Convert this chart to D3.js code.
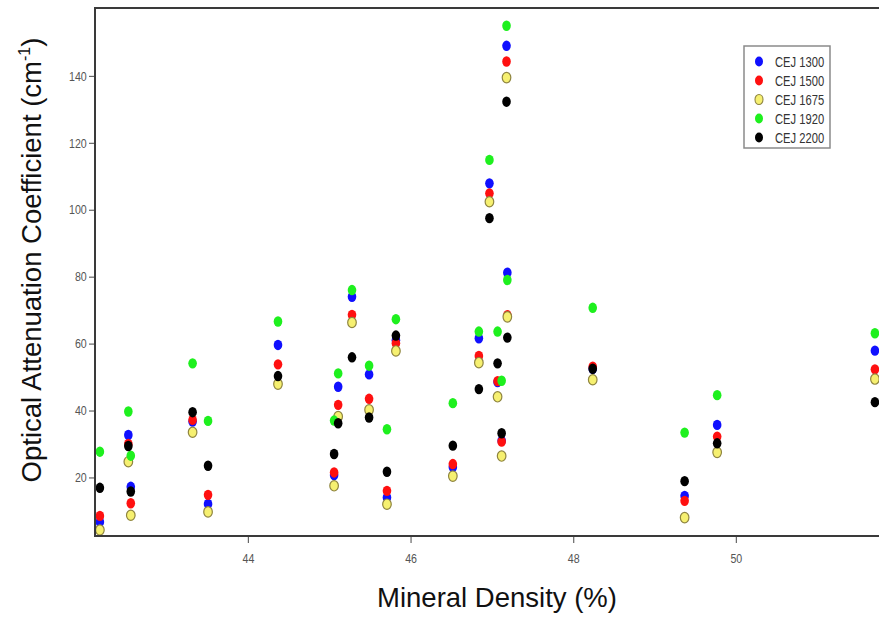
<!DOCTYPE html>
<html lang="en">
<head>
    <meta charset="UTF-8">
    <title>Optical Attenuation vs Mineral Density</title>
    <script src="https://d3js.org/d3.v7.min.js"></script>
    <style>
        body { margin: 0; background: #fff; }
        svg { display: block; background: #fff; }
        .tick text { font-family: "Liberation Sans", Arial, sans-serif; fill: #555; }
    </style>
</head>
<body>

    <svg width="879" height="618"></svg>

    <script>
        // Mineral density (%) of each sample
        const density = [42.18, 42.53, 42.56, 43.32, 43.51, 44.37, 45.06, 45.11, 45.28, 45.49, 45.71, 45.82,
                         46.52, 46.84, 46.97, 47.07, 47.12, 47.18, 47.19, 48.24, 49.37, 49.77, 51.71];

        // Attenuation coefficient per CEJ distance
        const cej1300 = [6.7, 32.7, 17.2, 36.7, 12.1, 59.6, 20.7, 47.1, 74.0, 50.8, 14.0, 61.0,
                         23.1, 61.6, 107.9, 48.5, 31.0, 149.0, 81.2, 52.5, 14.5, 35.7, 57.9];
        const cej1500 = [8.5, 30.0, 12.3, 37.2, 14.8, 53.8, 21.5, 41.7, 68.6, 43.5, 16.0, 60.1,
                         24.0, 56.3, 104.9, 48.8, 30.7, 144.3, 68.5, 53.1, 13.0, 32.2, 52.3];
        const cej1675 = [4.3, 24.7, 8.7, 33.5, 9.7, 47.9, 17.5, 38.2, 66.3, 40.2, 12.0, 57.8,
                         20.4, 54.3, 102.4, 44.1, 26.4, 139.5, 68.0, 49.2, 8.0, 27.5, 49.4];
        const cej1920 = [27.7, 39.7, 26.5, 54.1, 36.9, 66.6, 37.0, 51.1, 76.0, 53.4, 34.4, 67.3,
                         42.2, 63.6, 114.9, 63.6, 48.9, 155.0, 79.0, 70.7, 33.4, 44.6, 63.1];
        const cej2200 = [16.9, 29.4, 15.8, 39.5, 23.5, 50.3, 27.0, 36.2, 55.9, 37.9, 21.7, 62.4,
                         29.5, 46.4, 97.5, 54.1, 33.2, 132.3, 61.8, 52.5, 18.9, 30.2, 42.5];

        const seriesNames = ["CEJ 1300", "CEJ 1500", "CEJ 1675", "CEJ 1920", "CEJ 2200"];
        const seriesValues = [cej1300, cej1500, cej1675, cej1920, cej2200];
        const xTicks = [44, 46, 48, 50];
        const yTicks = [20, 40, 60, 80, 100, 120, 140];

        const fills = ["#1010ff", "#ff1010", "#f6f070", "#1ef01e", "#000000"];
        const strokes = ["none", "none", "#8f8540", "none", "none"];

        const width = 879, height = 618;
        const margin = { top: 8, right: 0, bottom: 82, left: 95 };

        const svg = d3.select("svg");

        const x = d3.scaleLinear()
            .domain([42.12, 51.76])
            .range([margin.left, width - margin.right]);

        const y = d3.scaleLinear()
            .domain([2.5, 160.3])
            .range([height - margin.bottom, margin.top]);

        // points, one series after another (black ends up on top)
        seriesValues.forEach((vals, i) => {
            svg.append("g")
                .selectAll("ellipse")
                .data(vals)
                .join("ellipse")
                .attr("cx", (d, j) => x(density[j]))
                .attr("cy", d => y(d))
                .attr("rx", 4.3)
                .attr("ry", 5.2)
                .attr("fill", fills[i])
                .attr("stroke", strokes[i])
                .attr("stroke-width", 1.2);
        });

        // axes
        const xAxis = svg.append("g")
            .attr("transform", `translate(0,${height - margin.bottom})`)
            .call(d3.axisBottom(x).tickValues(xTicks).tickSize(7).tickPadding(11).tickSizeOuter(0));

        const yAxis = svg.append("g")
            .attr("transform", `translate(${margin.left},0)`)
            .call(d3.axisLeft(y).tickValues(yTicks).tickSize(6).tickPadding(4).tickSizeOuter(0));

        [xAxis, yAxis].forEach(a => {
            a.select(".domain").remove();
            a.selectAll(".tick line").attr("stroke", "#666").attr("stroke-width", 1.2);
            // the source font is a condensed one, squeeze a regular face
            a.selectAll(".tick text").attr("font-size", 13).attr("transform", "scale(0.82,1)");
        });

        // frame: left, bottom, top
        const frame = svg.append("g").attr("stroke", "#3a3a3a").attr("stroke-width", 2).attr("fill", "none");
        frame.append("path")
            .attr("d", `M${width},${margin.top}H${margin.left}V${height - margin.bottom}H${width}`);

        // axis titles
        svg.append("text")
            .attr("x", 497)
            .attr("y", 607)
            .attr("text-anchor", "middle")
            .attr("font-family", "Liberation Sans, Arial, sans-serif")
            .attr("font-size", 27.5)
            .attr("fill", "#111")
            .text("Mineral Density (%)");

        const yTitle = svg.append("text")
            .attr("transform", "translate(41,260) rotate(-90)")
            .attr("text-anchor", "middle")
            .attr("font-family", "Liberation Sans, Arial, sans-serif")
            .attr("font-size", 27.5)
            .attr("fill", "#111");
        yTitle.append("tspan").text("Optical Attenuation Coefficient (cm");
        yTitle.append("tspan").attr("font-size", 16).attr("dy", -11).text("-1");
        yTitle.append("tspan").attr("dy", 11).text(")");

        // legend
        const legend = svg.append("g").attr("transform", "translate(744,46)");
        legend.append("rect")
            .attr("width", 86)
            .attr("height", 102)
            .attr("fill", "#fff")
            .attr("stroke", "#8a8a8a")
            .attr("stroke-width", 1.5);

        seriesNames.forEach((name, i) => {
            const row = legend.append("g").attr("transform", `translate(0,${15.5 + i * 19})`);
            row.append("ellipse")
                .attr("cx", 15)
                .attr("cy", 0)
                .attr("rx", 4)
                .attr("ry", 5)
                .attr("fill", fills[i])
                .attr("stroke", strokes[i])
                .attr("stroke-width", 1.1);
            row.append("text")
                .attr("transform", "translate(31,5) scale(0.8,1)")
                .attr("font-family", "Liberation Sans, Arial, sans-serif")
                .attr("font-size", 14)
                .attr("fill", "#333")
                .text(name);
        });
    </script>

</body>
</html>
